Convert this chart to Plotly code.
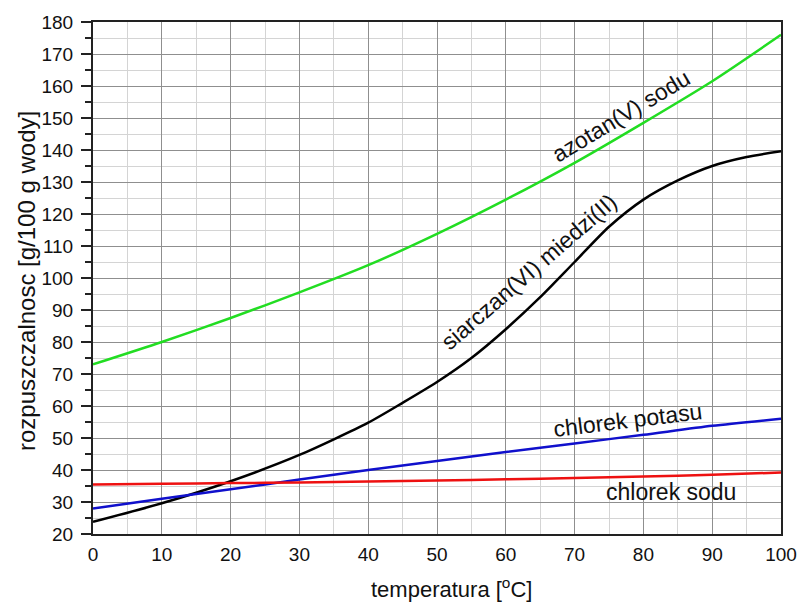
import plotly.graph_objects as go

temps = [0, 10, 20, 30, 40, 50, 60, 70, 80, 90, 100]
azotan_sodu = [73, 80, 87.5, 95.5, 104, 113.8, 124.5, 136, 148.5, 161.5, 176]
chlorek_potasu = [28, 31, 34, 37, 40, 42.8, 45.6, 48.3, 51, 53.8, 56]
chlorek_sodu = [35.5, 35.7, 35.9, 36.1, 36.4, 36.7, 37.1, 37.5, 38, 38.5, 39.2]

temps_cuso4 = [0, 10, 20, 30, 40, 45, 50, 55, 60, 65, 70, 75, 80, 85, 90, 95, 100]
siarczan_miedzi = [23.8, 29.6, 36.5, 44.7, 54.8, 61, 67.5, 75, 84, 94, 105, 116, 124.5, 130.5, 135, 137.8, 139.6]

series = [
    ("azotan(V) sodu", temps, azotan_sodu, "#22dd22"),
    ("siarczan(VI) miedzi(II)", temps_cuso4, siarczan_miedzi, "#000000"),
    ("chlorek potasu", temps, chlorek_potasu, "#1010cc"),
    ("chlorek sodu", temps, chlorek_sodu, "#ee1111"),
]

fig = go.Figure()
for name, xs, vals, col in series:
    fig.add_trace(go.Scatter(x=xs, y=vals, mode="lines", name=name,
                             line=dict(color=col, width=2.5, shape="spline", smoothing=0.7)))

font = "Liberation Sans, Arial, sans-serif"
labels = [
    ("azotan(V) sodu", 76.7, 150.6, -31),
    ("siarczan(VI) miedzi(II)", 63.3, 102, -41),
    ("chlorek potasu", 77.8, 55.6, -7),
    ("chlorek sodu", 84, 33.1, 0),
]
for txt, x, y, ang in labels:
    fig.add_annotation(x=x, y=y, text=txt, showarrow=False, textangle=ang,
                       font=dict(family=font, size=23, color="#111111"))

PW, PH = 688, 512
fig.add_annotation(xref="paper", yref="paper", x=(451 - 93) / PW, y=-(588 - 534) / PH,
                   xanchor="center", yanchor="middle",
                   text="temperatura [<sup>o</sup>C]", showarrow=False,
                   font=dict(family=font, size=22, color="#111111"))
fig.add_annotation(xref="paper", yref="paper", x=-(93 - 26) / PW, y=(534 - 281) / PH,
                   xanchor="center", yanchor="middle",
                   text="rozpuszczalnosc [g/100 g wody]", showarrow=False, textangle=-90,
                   font=dict(family=font, size=24, color="#111111"))

fig.update_layout(
    width=799, height=609,
    margin=dict(l=93, r=18, t=22, b=75),
    paper_bgcolor="white", plot_bgcolor="white",
    showlegend=False,
    font=dict(family=font, size=19, color="#111111"),
)
fig.update_xaxes(
    range=[0, 100], dtick=10, tick0=0, automargin=False,
    showline=True, linecolor="#222222", linewidth=2, mirror=True,
    ticks="", showgrid=True, gridcolor="#8f8f8f", gridwidth=1,
    minor=dict(dtick=5, showgrid=True, gridcolor="#d4d4d4", gridwidth=1),
    zeroline=False, ticklabelstandoff=2,
    tickfont=dict(family=font, size=19),
)
fig.update_yaxes(
    range=[20, 180], dtick=10, tick0=20, automargin=False,
    showline=True, linecolor="#222222", linewidth=2, mirror=True,
    ticks="outside", ticklen=10, tickwidth=2, tickcolor="#222222",
    showgrid=True, gridcolor="#8f8f8f", gridwidth=1,
    minor=dict(dtick=5, showgrid=True, gridcolor="#d4d4d4", gridwidth=1,
               ticks="outside", ticklen=6, tickwidth=2, tickcolor="#222222"),
    zeroline=False, ticklabelstandoff=4,
    tickfont=dict(family=font, size=19),
)

fig.write_html("out.html", config={"displayModeBar": False},
               post_script="document.body.style.margin='0';document.body.style.overflow='hidden';")
